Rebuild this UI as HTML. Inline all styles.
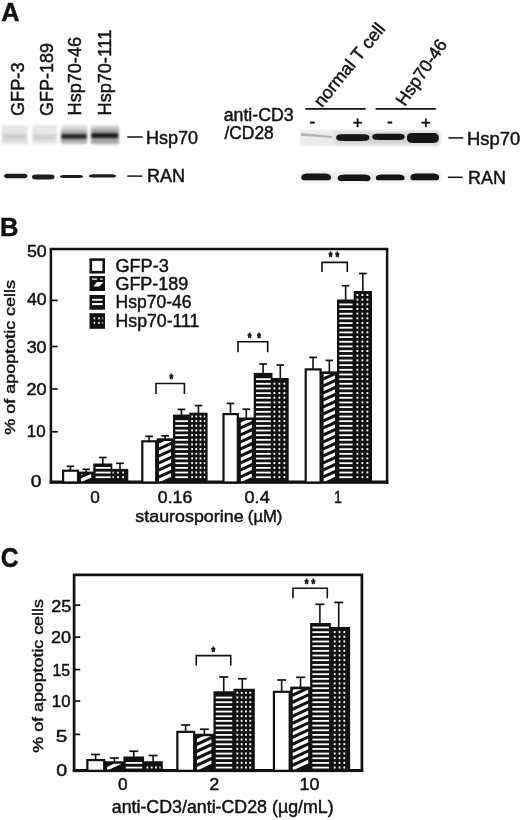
<!DOCTYPE html>
<html><head><meta charset="utf-8"><title>Figure</title>
<style>
html,body{margin:0;padding:0;background:#fff}
svg{display:block}
text{font-family:"Liberation Sans",sans-serif}
</style></head><body>
<svg width="520" height="820" viewBox="0 0 520 820">
<defs>
<filter id="b05" x="-10%" y="-50%" width="120%" height="200%"><feGaussianBlur stdDeviation="0.6"/></filter>
<filter id="b15" x="-10%" y="-50%" width="120%" height="200%"><feGaussianBlur stdDeviation="1.6"/></filter>
<filter id="b1" x="-10%" y="-50%" width="120%" height="200%"><feGaussianBlur stdDeviation="1"/></filter>
<filter id="b2" x="-10%" y="-50%" width="120%" height="200%"><feGaussianBlur stdDeviation="2.2"/></filter>
<pattern id="hstr" width="40" height="4.67" patternUnits="userSpaceOnUse"><rect width="40" height="4.67" fill="#111"/><rect y="1.4" width="40" height="1.9" fill="#fff"/></pattern>
<pattern id="dots" width="4.4" height="4.67" patternUnits="userSpaceOnUse"><rect width="4.4" height="4.67" fill="#111"/><rect x="1.45" y="1.3" width="1.5" height="2" fill="#fff"/></pattern>
<pattern id="hatch" width="40" height="7" patternUnits="userSpaceOnUse"><rect width="40" height="7" fill="#111"/><path d="M0,7 L14,0 L14,-3.5 L0,3.5 Z M0,14 L14,7 L14,3.5 L0,10.5Z M0,0 L14,-7 L14,-10.5 L0,-3.5Z" fill="#fff"/></pattern>
</defs>
<rect width="520" height="820" fill="#fff"/>
<text transform="translate(2.00,21.00) scale(0.9691,1) translate(-0.65,0)" font-size="26.18" font-weight="bold" fill="#111" stroke="#111" stroke-width="0.45">A</text>
<text transform="translate(23.60,115.10) rotate(-90.00) scale(0.9839,1) translate(-0.92,0)" font-size="18.47" fill="#111" stroke="#111" stroke-width="0.45">GFP-3</text>
<text transform="translate(52.90,115.10) rotate(-90.00) scale(0.9747,1) translate(-0.92,0)" font-size="18.47" fill="#111" stroke="#111" stroke-width="0.45">GFP-189</text>
<text transform="translate(80.70,113.90) rotate(-90.00) scale(0.9798,1) translate(-1.52,0)" font-size="18.47" fill="#111" stroke="#111" stroke-width="0.45">Hsp70-46</text>
<text transform="translate(110.60,113.90) rotate(-90.00) scale(0.9800,1) translate(-1.52,0)" font-size="18.47" fill="#111" stroke="#111" stroke-width="0.45">Hsp70-111</text>
<g filter="url(#b1)">
<rect x="2.00" y="125.20" width="25.50" height="19.00" fill="#e6e6e6"/>
<rect x="32.50" y="125.20" width="24.50" height="19.00" fill="#e8e8e8"/>
<rect x="61.00" y="125.20" width="26.00" height="19.00" fill="#dcdcdc"/>
<rect x="91.00" y="125.20" width="28.00" height="19.00" fill="#d8d8d8"/>
</g>
<g filter="url(#b15)">
<rect x="61.50" y="130.00" width="25.50" height="13.00" fill="#aaaaaa"/>
<rect x="91.50" y="128.50" width="27.00" height="15.00" fill="#a2a2a2"/>
<rect x="3.00" y="133.00" width="23.00" height="8.00" fill="#d6d6d6"/>
<rect x="33.00" y="134.00" width="23.00" height="7.00" fill="#d9d9d9"/>
</g>
<g filter="url(#b1)">
<rect x="61.50" y="134.20" width="25.00" height="4.40" fill="#202020"/>
<rect x="91.50" y="133.20" width="26.50" height="4.80" fill="#1c1c1c"/>
<rect x="4.00" y="135.60" width="22.00" height="1.60" fill="#c4c4c4"/>
<rect x="35.00" y="136.40" width="20.00" height="1.60" fill="#c4c4c4"/>
</g>
<g filter="url(#b05)">
<path d="M4.00,176.00 C4.00,173.70 7.53,173.70 11.05,173.70 L20.45,173.70 C23.98,173.70 27.50,173.70 27.50,176.00 C27.50,178.30 23.98,178.30 20.45,178.30 L11.05,178.30 C7.53,178.30 4.00,178.30 4.00,176.00Z" fill="#1a1a1a"/>
<path d="M32.00,177.00 C32.00,174.50 35.38,174.50 38.75,174.50 L47.75,174.50 C51.12,174.50 54.50,174.50 54.50,177.00 C54.50,179.50 51.12,179.50 47.75,179.50 L38.75,179.50 C35.38,179.50 32.00,179.50 32.00,177.00Z" fill="#1a1a1a"/>
<path d="M60.00,176.40 C60.00,174.90 63.45,174.90 66.90,174.90 L76.10,174.90 C79.55,174.90 83.00,174.90 83.00,176.40 C83.00,177.90 79.55,177.90 76.10,177.90 L66.90,177.90 C63.45,177.90 60.00,177.90 60.00,176.40Z" fill="#1a1a1a"/>
<path d="M89.00,175.90 C89.00,174.20 93.05,174.20 97.10,174.20 L107.90,174.20 C111.95,174.20 116.00,174.20 116.00,175.90 C116.00,177.60 111.95,177.60 107.90,177.60 L97.10,177.60 C93.05,177.60 89.00,177.60 89.00,175.90Z" fill="#1a1a1a"/>
</g>
<line x1="127.30" y1="137.00" x2="142.70" y2="137.00" stroke="#111" stroke-width="1.5"/>
<text transform="translate(147.50,143.80) scale(1.0089,1) translate(-1.48,0)" font-size="17.89" fill="#111" stroke="#111" stroke-width="0.45">Hsp70</text>
<line x1="127.30" y1="176.10" x2="142.30" y2="176.10" stroke="#111" stroke-width="1.5"/>
<text transform="translate(148.50,181.70) scale(1.0355,1) translate(-1.44,0)" font-size="17.45" fill="#111" stroke="#111" stroke-width="0.45">RAN</text>
<text transform="translate(322.70,107.30) rotate(-51.00) scale(1.0098,1) translate(-1.20,0)" font-size="17.75" fill="#111" stroke="#111" stroke-width="0.45">normal T cell</text>
<text transform="translate(405.60,105.80) rotate(-55.50) scale(0.9878,1) translate(-1.46,0)" font-size="17.75" fill="#111" stroke="#111" stroke-width="0.45">Hsp70-46</text>
<line x1="305.50" y1="108.90" x2="365.60" y2="108.90" stroke="#111" stroke-width="1.6"/>
<line x1="375.60" y1="108.90" x2="435.80" y2="108.90" stroke="#111" stroke-width="1.6"/>
<text transform="translate(224.40,120.80) scale(1.0015,1) translate(-0.75,0)" font-size="17.75" fill="#111" stroke="#111" stroke-width="0.45">anti-CD3</text>
<text transform="translate(224.40,138.50) scale(0.9816,1) translate(-0.00,0)" font-size="17.75" fill="#111" stroke="#111" stroke-width="0.45">/CD28</text>
<text x="309.74" y="126.86" font-size="16.00" fill="#111" stroke="#111" stroke-width="0.7">-</text>
<text x="387.24" y="126.86" font-size="16.00" fill="#111" stroke="#111" stroke-width="0.7">-</text>
<text x="352.67" y="127.69" font-size="16.50" fill="#111" stroke="#111" stroke-width="0.6">+</text>
<text x="420.97" y="127.69" font-size="16.50" fill="#111" stroke="#111" stroke-width="0.6">+</text>
<g filter="url(#b1)">
<rect x="300.00" y="130.30" width="139.50" height="15.50" fill="#ebebeb"/>
</g>
<g filter="url(#b2)">
<rect x="336.00" y="132.50" width="103.00" height="11.50" fill="#cfcfcf"/>
<rect x="300.00" y="172.00" width="140.00" height="10.00" fill="#e9e9e9"/>
</g>
<g filter="url(#b05)">
<path d="M301,133.2 L312,134.0 L332,136.0 L332,138.0 L312,136.4 L301,136Z" fill="#b4b4b4"/>
<path d="M336.20,137.55 C336.20,134.20 339.85,134.20 343.50,134.20 L362.10,134.20 C365.75,134.20 369.40,134.20 369.40,137.55 C369.40,140.90 365.75,140.90 362.10,140.90 L343.50,140.90 C339.85,140.90 336.20,140.90 336.20,137.55Z" fill="#151515"/>
<path d="M372.30,136.85 C372.30,133.70 375.85,133.70 379.41,133.70 L397.49,133.70 C401.05,133.70 404.60,133.70 404.60,136.85 C404.60,140.00 401.05,140.00 397.49,140.00 L379.41,140.00 C375.85,140.00 372.30,140.00 372.30,136.85Z" fill="#151515"/>
<path d="M407.00,137.95 C407.00,133.00 410.50,133.00 414.00,133.00 L431.80,133.00 C435.30,133.00 438.80,133.00 438.80,137.95 C438.80,142.90 435.30,142.90 431.80,142.90 L414.00,142.90 C410.50,142.90 407.00,142.90 407.00,137.95Z" fill="#151515"/>
<path d="M301.30,177.75 C301.30,174.12 304.57,173.70 307.83,173.49 L324.47,173.49 C327.73,173.70 331.00,174.12 331.00,177.75 C331.00,180.82 327.73,180.40 324.47,180.19 L307.83,180.19 C304.57,180.40 301.30,180.82 301.30,177.75Z" fill="#151515"/>
<path d="M337.70,178.60 C337.70,175.02 341.32,174.60 344.94,174.39 L363.36,174.39 C366.98,174.60 370.60,175.02 370.60,178.60 C370.60,181.62 366.98,181.20 363.36,180.99 L344.94,180.99 C341.32,181.20 337.70,181.62 337.70,178.60Z" fill="#151515"/>
<path d="M375.80,178.30 C375.80,175.22 378.97,174.80 382.14,174.59 L398.26,174.59 C401.43,174.80 404.60,175.22 404.60,178.30 C404.60,180.82 401.43,180.40 398.26,180.19 L382.14,180.19 C378.97,180.40 375.80,180.82 375.80,178.30Z" fill="#151515"/>
<path d="M410.40,177.75 C410.40,174.12 413.57,173.70 416.74,173.49 L432.86,173.49 C436.03,173.70 439.20,174.12 439.20,177.75 C439.20,180.82 436.03,180.40 432.86,180.19 L416.74,180.19 C413.57,180.40 410.40,180.82 410.40,177.75Z" fill="#151515"/>
</g>
<line x1="448.50" y1="137.90" x2="463.30" y2="137.90" stroke="#111" stroke-width="1.5"/>
<text transform="translate(468.50,145.00) scale(1.0126,1) translate(-1.50,0)" font-size="18.18" fill="#111" stroke="#111" stroke-width="0.45">Hsp70</text>
<line x1="447.90" y1="177.30" x2="462.70" y2="177.30" stroke="#111" stroke-width="1.5"/>
<text transform="translate(469.60,183.50) scale(1.0296,1) translate(-1.44,0)" font-size="17.45" fill="#111" stroke="#111" stroke-width="0.45">RAN</text>
<text transform="translate(1.70,236.00) scale(0.9768,1) translate(-1.77,0)" font-size="26.18" font-weight="bold" fill="#111" stroke="#111" stroke-width="0.45">B</text>
<path d="M50.9,483.9 V249 H387.1 V483.9" fill="none" stroke="#111" stroke-width="2.5"/>
<rect x="49.80" y="480.50" width="338.50" height="3.30" fill="#111"/>
<text transform="translate(27.60,256.90) scale(1.1240,1) translate(-0.63,0)" font-size="15.85" fill="#111" stroke="#111" stroke-width="0.45">50</text>
<text transform="translate(27.30,305.40) scale(1.1113,1) translate(-0.36,0)" font-size="15.85" fill="#111" stroke="#111" stroke-width="0.45">40</text>
<text transform="translate(27.30,352.70) scale(1.1274,1) translate(-0.59,0)" font-size="15.85" fill="#111" stroke="#111" stroke-width="0.45">30</text>
<text transform="translate(27.30,394.70) scale(1.1412,1) translate(-0.79,0)" font-size="15.85" fill="#111" stroke="#111" stroke-width="0.45">20</text>
<text transform="translate(28.10,437.20) scale(1.0686,1) translate(-1.19,0)" font-size="15.85" fill="#111" stroke="#111" stroke-width="0.45">10</text>
<text transform="translate(31.60,487.30) scale(1.2152,1) translate(-0.63,0)" font-size="15.85" fill="#111" stroke="#111" stroke-width="0.45">0</text>
<line x1="52.00" y1="300.40" x2="57.70" y2="300.40" stroke="#111" stroke-width="1.7"/>
<line x1="52.00" y1="346.50" x2="57.70" y2="346.50" stroke="#111" stroke-width="1.7"/>
<line x1="52.00" y1="389.00" x2="57.70" y2="389.00" stroke="#111" stroke-width="1.7"/>
<line x1="52.00" y1="431.80" x2="57.70" y2="431.80" stroke="#111" stroke-width="1.7"/>
<text transform="translate(14.60,434.20) rotate(-90.00) scale(1.2627,1) translate(-0.50,0)" font-size="14.25" fill="#111" stroke="#111" stroke-width="0.45">% of apoptotic cells</text>
<rect x="90.80" y="259.60" width="12.90" height="12.60" fill="#fff" stroke="#111" stroke-width="2.6"/>
<rect x="89.50" y="276.00" width="15.50" height="15.00" fill="#111"/>
<rect x="89.50" y="295.00" width="15.50" height="14.70" fill="#111"/>
<rect x="89.50" y="313.20" width="15.50" height="15.60" fill="#111"/>
<path d="M93.5,286.4 L99.2,286.4 L103.5,282 L96.9,282 Z M92,278.6 h4.9 v1.2 h-4.9z M100.2,278.6 h2.4 v1.2 h-2.4z" fill="#fff"/>
<rect x="92.00" y="298.80" width="10.60" height="1.90" fill="#fff"/>
<rect x="92.00" y="303.00" width="10.60" height="2.10" fill="#fff"/>
<rect x="93.70" y="317.30" width="1.50" height="2.00" fill="#fff"/>
<rect x="93.70" y="321.80" width="1.50" height="2.00" fill="#fff"/>
<rect x="98.20" y="317.30" width="1.50" height="2.00" fill="#fff"/>
<rect x="98.20" y="321.80" width="1.50" height="2.00" fill="#fff"/>
<rect x="101.80" y="317.30" width="1.50" height="2.00" fill="#888"/>
<rect x="101.80" y="321.80" width="1.50" height="2.00" fill="#888"/>
<text transform="translate(116.30,271.60) scale(1.0393,1) translate(-0.87,0)" font-size="17.45" fill="#111" stroke="#111" stroke-width="0.45">GFP-3</text>
<text transform="translate(116.30,289.80) scale(1.0301,1) translate(-0.87,0)" font-size="17.45" fill="#111" stroke="#111" stroke-width="0.45">GFP-189</text>
<text transform="translate(117.00,308.00) scale(1.0043,1) translate(-1.44,0)" font-size="17.45" fill="#111" stroke="#111" stroke-width="0.45">Hsp70-46</text>
<text transform="translate(117.00,326.90) scale(1.0148,1) translate(-1.44,0)" font-size="17.45" fill="#111" stroke="#111" stroke-width="0.45">Hsp70-111</text>
<line x1="70.40" y1="466.30" x2="70.40" y2="470.60" stroke="#111" stroke-width="1.6"/>
<line x1="66.60" y1="466.30" x2="74.20" y2="466.30" stroke="#111" stroke-width="1.7"/>
<rect x="63.10" y="470.70" width="14.90" height="11.80" fill="#fff" stroke="#111" stroke-width="2.2"/>
<line x1="86.20" y1="469.30" x2="86.20" y2="472.60" stroke="#111" stroke-width="1.6"/>
<line x1="82.40" y1="469.30" x2="90.00" y2="469.30" stroke="#111" stroke-width="1.7"/>
<rect x="78.50" y="471.60" width="15.40" height="10.90" fill="#111"/>
<clipPath id="c1"><rect x="80.80" y="474.20" width="10.70" height="7.10"/></clipPath>
<g clip-path="url(#c1)" fill="#fff">
<path d="M80.80,482.30 L91.50,477.38 V473.68 L80.80,478.60Z"/>
<path d="M80.80,475.30 L91.50,470.38 V466.68 L80.80,471.60Z"/>
<path d="M80.80,468.30 L91.50,463.38 V459.68 L80.80,464.60Z"/>
</g>
<line x1="102.80" y1="457.50" x2="102.80" y2="464.50" stroke="#111" stroke-width="1.6"/>
<line x1="99.00" y1="457.50" x2="106.60" y2="457.50" stroke="#111" stroke-width="1.7"/>
<rect x="93.30" y="463.50" width="19.00" height="19.00" fill="#111"/>
<clipPath id="c2"><rect x="95.60" y="466.10" width="15.00" height="15.20"/></clipPath>
<g clip-path="url(#c2)" fill="#fff">
<rect x="94.40" y="476.30" width="16.60" height="1.8"/>
<rect x="94.40" y="471.63" width="16.60" height="1.8"/>
<rect x="94.40" y="466.96" width="16.60" height="1.8"/>
</g>
<line x1="120.00" y1="463.30" x2="120.00" y2="469.90" stroke="#111" stroke-width="1.6"/>
<line x1="116.20" y1="463.30" x2="123.80" y2="463.30" stroke="#111" stroke-width="1.7"/>
<rect x="111.70" y="468.90" width="16.60" height="13.60" fill="#111"/>
<clipPath id="c3"><rect x="112.50" y="471.50" width="13.50" height="9.80"/></clipPath>
<g clip-path="url(#c3)" fill="#fff">
<rect x="112.00" y="476.10" width="1.8" height="2.0"/>
<rect x="117.10" y="476.10" width="1.8" height="2.0"/>
<rect x="122.20" y="476.10" width="1.8" height="2.0"/>
<rect x="112.00" y="471.43" width="1.8" height="2.0"/>
<rect x="117.10" y="471.43" width="1.8" height="2.0"/>
<rect x="122.20" y="471.43" width="1.8" height="2.0"/>
</g>
<line x1="149.10" y1="436.30" x2="149.10" y2="441.20" stroke="#111" stroke-width="1.6"/>
<line x1="145.30" y1="436.30" x2="152.90" y2="436.30" stroke="#111" stroke-width="1.7"/>
<rect x="142.30" y="441.30" width="13.90" height="41.20" fill="#fff" stroke="#111" stroke-width="2.2"/>
<line x1="165.15" y1="435.80" x2="165.15" y2="439.30" stroke="#111" stroke-width="1.6"/>
<line x1="161.35" y1="435.80" x2="168.95" y2="435.80" stroke="#111" stroke-width="1.7"/>
<rect x="156.70" y="438.30" width="16.90" height="44.20" fill="#111"/>
<clipPath id="c4"><rect x="159.00" y="440.90" width="12.20" height="40.40"/></clipPath>
<g clip-path="url(#c4)" fill="#fff">
<path d="M159.00,482.30 L171.20,476.69 V472.99 L159.00,478.60Z"/>
<path d="M159.00,475.30 L171.20,469.69 V465.99 L159.00,471.60Z"/>
<path d="M159.00,468.30 L171.20,462.69 V458.99 L159.00,464.60Z"/>
<path d="M159.00,461.30 L171.20,455.69 V451.99 L159.00,457.60Z"/>
<path d="M159.00,454.30 L171.20,448.69 V444.99 L159.00,450.60Z"/>
<path d="M159.00,447.30 L171.20,441.69 V437.99 L159.00,443.60Z"/>
<path d="M159.00,440.30 L171.20,434.69 V430.99 L159.00,436.60Z"/>
<path d="M159.00,433.30 L171.20,427.69 V423.99 L159.00,429.60Z"/>
</g>
<line x1="181.45" y1="409.40" x2="181.45" y2="415.60" stroke="#111" stroke-width="1.6"/>
<line x1="177.65" y1="409.40" x2="185.25" y2="409.40" stroke="#111" stroke-width="1.7"/>
<rect x="173.00" y="414.60" width="16.90" height="67.90" fill="#111"/>
<clipPath id="c5"><rect x="175.30" y="417.20" width="12.90" height="64.10"/></clipPath>
<g clip-path="url(#c5)" fill="#fff">
<rect x="174.10" y="476.30" width="14.50" height="1.8"/>
<rect x="174.10" y="471.63" width="14.50" height="1.8"/>
<rect x="174.10" y="466.96" width="14.50" height="1.8"/>
<rect x="174.10" y="462.29" width="14.50" height="1.8"/>
<rect x="174.10" y="457.62" width="14.50" height="1.8"/>
<rect x="174.10" y="452.95" width="14.50" height="1.8"/>
<rect x="174.10" y="448.28" width="14.50" height="1.8"/>
<rect x="174.10" y="443.61" width="14.50" height="1.8"/>
<rect x="174.10" y="438.94" width="14.50" height="1.8"/>
<rect x="174.10" y="434.27" width="14.50" height="1.8"/>
<rect x="174.10" y="429.60" width="14.50" height="1.8"/>
<rect x="174.10" y="424.93" width="14.50" height="1.8"/>
<rect x="174.10" y="420.26" width="14.50" height="1.8"/>
</g>
<line x1="198.45" y1="405.60" x2="198.45" y2="413.70" stroke="#111" stroke-width="1.6"/>
<line x1="194.65" y1="405.60" x2="202.25" y2="405.60" stroke="#111" stroke-width="1.7"/>
<rect x="189.30" y="412.70" width="18.30" height="69.80" fill="#111"/>
<clipPath id="c6"><rect x="190.10" y="415.30" width="15.20" height="66.00"/></clipPath>
<g clip-path="url(#c6)" fill="#fff">
<rect x="191.20" y="476.10" width="1.8" height="2.0"/>
<rect x="195.40" y="476.10" width="1.8" height="2.0"/>
<rect x="199.60" y="476.10" width="1.8" height="2.0"/>
<rect x="203.80" y="476.10" width="1.8" height="2.0"/>
<rect x="191.20" y="471.43" width="1.8" height="2.0"/>
<rect x="195.40" y="471.43" width="1.8" height="2.0"/>
<rect x="199.60" y="471.43" width="1.8" height="2.0"/>
<rect x="203.80" y="471.43" width="1.8" height="2.0"/>
<rect x="191.20" y="466.76" width="1.8" height="2.0"/>
<rect x="195.40" y="466.76" width="1.8" height="2.0"/>
<rect x="199.60" y="466.76" width="1.8" height="2.0"/>
<rect x="203.80" y="466.76" width="1.8" height="2.0"/>
<rect x="191.20" y="462.09" width="1.8" height="2.0"/>
<rect x="195.40" y="462.09" width="1.8" height="2.0"/>
<rect x="199.60" y="462.09" width="1.8" height="2.0"/>
<rect x="203.80" y="462.09" width="1.8" height="2.0"/>
<rect x="191.20" y="457.42" width="1.8" height="2.0"/>
<rect x="195.40" y="457.42" width="1.8" height="2.0"/>
<rect x="199.60" y="457.42" width="1.8" height="2.0"/>
<rect x="203.80" y="457.42" width="1.8" height="2.0"/>
<rect x="191.20" y="452.75" width="1.8" height="2.0"/>
<rect x="195.40" y="452.75" width="1.8" height="2.0"/>
<rect x="199.60" y="452.75" width="1.8" height="2.0"/>
<rect x="203.80" y="452.75" width="1.8" height="2.0"/>
<rect x="191.20" y="448.08" width="1.8" height="2.0"/>
<rect x="195.40" y="448.08" width="1.8" height="2.0"/>
<rect x="199.60" y="448.08" width="1.8" height="2.0"/>
<rect x="203.80" y="448.08" width="1.8" height="2.0"/>
<rect x="191.20" y="443.41" width="1.8" height="2.0"/>
<rect x="195.40" y="443.41" width="1.8" height="2.0"/>
<rect x="199.60" y="443.41" width="1.8" height="2.0"/>
<rect x="203.80" y="443.41" width="1.8" height="2.0"/>
<rect x="191.20" y="438.74" width="1.8" height="2.0"/>
<rect x="195.40" y="438.74" width="1.8" height="2.0"/>
<rect x="199.60" y="438.74" width="1.8" height="2.0"/>
<rect x="203.80" y="438.74" width="1.8" height="2.0"/>
<rect x="191.20" y="434.07" width="1.8" height="2.0"/>
<rect x="195.40" y="434.07" width="1.8" height="2.0"/>
<rect x="199.60" y="434.07" width="1.8" height="2.0"/>
<rect x="203.80" y="434.07" width="1.8" height="2.0"/>
<rect x="191.20" y="429.40" width="1.8" height="2.0"/>
<rect x="195.40" y="429.40" width="1.8" height="2.0"/>
<rect x="199.60" y="429.40" width="1.8" height="2.0"/>
<rect x="203.80" y="429.40" width="1.8" height="2.0"/>
<rect x="191.20" y="424.73" width="1.8" height="2.0"/>
<rect x="195.40" y="424.73" width="1.8" height="2.0"/>
<rect x="199.60" y="424.73" width="1.8" height="2.0"/>
<rect x="203.80" y="424.73" width="1.8" height="2.0"/>
<rect x="191.20" y="420.06" width="1.8" height="2.0"/>
<rect x="195.40" y="420.06" width="1.8" height="2.0"/>
<rect x="199.60" y="420.06" width="1.8" height="2.0"/>
<rect x="203.80" y="420.06" width="1.8" height="2.0"/>
<rect x="191.20" y="415.39" width="1.8" height="2.0"/>
<rect x="195.40" y="415.39" width="1.8" height="2.0"/>
<rect x="199.60" y="415.39" width="1.8" height="2.0"/>
<rect x="203.80" y="415.39" width="1.8" height="2.0"/>
</g>
<line x1="230.50" y1="403.40" x2="230.50" y2="414.00" stroke="#111" stroke-width="1.6"/>
<line x1="226.70" y1="403.40" x2="234.30" y2="403.40" stroke="#111" stroke-width="1.7"/>
<rect x="223.50" y="414.10" width="14.30" height="68.40" fill="#fff" stroke="#111" stroke-width="2.2"/>
<line x1="246.30" y1="409.20" x2="246.30" y2="418.50" stroke="#111" stroke-width="1.6"/>
<line x1="242.50" y1="409.20" x2="250.10" y2="409.20" stroke="#111" stroke-width="1.7"/>
<rect x="238.30" y="417.50" width="16.00" height="65.00" fill="#111"/>
<clipPath id="c7"><rect x="240.60" y="420.10" width="11.30" height="61.20"/></clipPath>
<g clip-path="url(#c7)" fill="#fff">
<path d="M240.60,482.30 L251.90,477.10 V473.40 L240.60,478.60Z"/>
<path d="M240.60,475.30 L251.90,470.10 V466.40 L240.60,471.60Z"/>
<path d="M240.60,468.30 L251.90,463.10 V459.40 L240.60,464.60Z"/>
<path d="M240.60,461.30 L251.90,456.10 V452.40 L240.60,457.60Z"/>
<path d="M240.60,454.30 L251.90,449.10 V445.40 L240.60,450.60Z"/>
<path d="M240.60,447.30 L251.90,442.10 V438.40 L240.60,443.60Z"/>
<path d="M240.60,440.30 L251.90,435.10 V431.40 L240.60,436.60Z"/>
<path d="M240.60,433.30 L251.90,428.10 V424.40 L240.60,429.60Z"/>
<path d="M240.60,426.30 L251.90,421.10 V417.40 L240.60,422.60Z"/>
<path d="M240.60,419.30 L251.90,414.10 V410.40 L240.60,415.60Z"/>
<path d="M240.60,412.30 L251.90,407.10 V403.40 L240.60,408.60Z"/>
</g>
<line x1="263.10" y1="364.00" x2="263.10" y2="373.90" stroke="#111" stroke-width="1.6"/>
<line x1="259.30" y1="364.00" x2="266.90" y2="364.00" stroke="#111" stroke-width="1.7"/>
<rect x="253.70" y="372.90" width="18.80" height="109.60" fill="#111"/>
<clipPath id="c8"><rect x="256.00" y="375.50" width="14.80" height="105.80"/></clipPath>
<g clip-path="url(#c8)" fill="#fff">
<rect x="254.80" y="476.30" width="16.40" height="1.8"/>
<rect x="254.80" y="471.63" width="16.40" height="1.8"/>
<rect x="254.80" y="466.96" width="16.40" height="1.8"/>
<rect x="254.80" y="462.29" width="16.40" height="1.8"/>
<rect x="254.80" y="457.62" width="16.40" height="1.8"/>
<rect x="254.80" y="452.95" width="16.40" height="1.8"/>
<rect x="254.80" y="448.28" width="16.40" height="1.8"/>
<rect x="254.80" y="443.61" width="16.40" height="1.8"/>
<rect x="254.80" y="438.94" width="16.40" height="1.8"/>
<rect x="254.80" y="434.27" width="16.40" height="1.8"/>
<rect x="254.80" y="429.60" width="16.40" height="1.8"/>
<rect x="254.80" y="424.93" width="16.40" height="1.8"/>
<rect x="254.80" y="420.26" width="16.40" height="1.8"/>
<rect x="254.80" y="415.59" width="16.40" height="1.8"/>
<rect x="254.80" y="410.92" width="16.40" height="1.8"/>
<rect x="254.80" y="406.25" width="16.40" height="1.8"/>
<rect x="254.80" y="401.58" width="16.40" height="1.8"/>
<rect x="254.80" y="396.91" width="16.40" height="1.8"/>
<rect x="254.80" y="392.24" width="16.40" height="1.8"/>
<rect x="254.80" y="387.57" width="16.40" height="1.8"/>
<rect x="254.80" y="382.90" width="16.40" height="1.8"/>
<rect x="254.80" y="378.23" width="16.40" height="1.8"/>
</g>
<line x1="280.30" y1="365.00" x2="280.30" y2="379.00" stroke="#111" stroke-width="1.6"/>
<line x1="276.50" y1="365.00" x2="284.10" y2="365.00" stroke="#111" stroke-width="1.7"/>
<rect x="271.90" y="378.00" width="16.80" height="104.50" fill="#111"/>
<clipPath id="c9"><rect x="272.70" y="380.60" width="13.70" height="100.70"/></clipPath>
<g clip-path="url(#c9)" fill="#fff">
<rect x="273.50" y="476.10" width="1.8" height="2.0"/>
<rect x="278.50" y="476.10" width="1.8" height="2.0"/>
<rect x="283.50" y="476.10" width="1.8" height="2.0"/>
<rect x="273.50" y="471.43" width="1.8" height="2.0"/>
<rect x="278.50" y="471.43" width="1.8" height="2.0"/>
<rect x="283.50" y="471.43" width="1.8" height="2.0"/>
<rect x="273.50" y="466.76" width="1.8" height="2.0"/>
<rect x="278.50" y="466.76" width="1.8" height="2.0"/>
<rect x="283.50" y="466.76" width="1.8" height="2.0"/>
<rect x="273.50" y="462.09" width="1.8" height="2.0"/>
<rect x="278.50" y="462.09" width="1.8" height="2.0"/>
<rect x="283.50" y="462.09" width="1.8" height="2.0"/>
<rect x="273.50" y="457.42" width="1.8" height="2.0"/>
<rect x="278.50" y="457.42" width="1.8" height="2.0"/>
<rect x="283.50" y="457.42" width="1.8" height="2.0"/>
<rect x="273.50" y="452.75" width="1.8" height="2.0"/>
<rect x="278.50" y="452.75" width="1.8" height="2.0"/>
<rect x="283.50" y="452.75" width="1.8" height="2.0"/>
<rect x="273.50" y="448.08" width="1.8" height="2.0"/>
<rect x="278.50" y="448.08" width="1.8" height="2.0"/>
<rect x="283.50" y="448.08" width="1.8" height="2.0"/>
<rect x="273.50" y="443.41" width="1.8" height="2.0"/>
<rect x="278.50" y="443.41" width="1.8" height="2.0"/>
<rect x="283.50" y="443.41" width="1.8" height="2.0"/>
<rect x="273.50" y="438.74" width="1.8" height="2.0"/>
<rect x="278.50" y="438.74" width="1.8" height="2.0"/>
<rect x="283.50" y="438.74" width="1.8" height="2.0"/>
<rect x="273.50" y="434.07" width="1.8" height="2.0"/>
<rect x="278.50" y="434.07" width="1.8" height="2.0"/>
<rect x="283.50" y="434.07" width="1.8" height="2.0"/>
<rect x="273.50" y="429.40" width="1.8" height="2.0"/>
<rect x="278.50" y="429.40" width="1.8" height="2.0"/>
<rect x="283.50" y="429.40" width="1.8" height="2.0"/>
<rect x="273.50" y="424.73" width="1.8" height="2.0"/>
<rect x="278.50" y="424.73" width="1.8" height="2.0"/>
<rect x="283.50" y="424.73" width="1.8" height="2.0"/>
<rect x="273.50" y="420.06" width="1.8" height="2.0"/>
<rect x="278.50" y="420.06" width="1.8" height="2.0"/>
<rect x="283.50" y="420.06" width="1.8" height="2.0"/>
<rect x="273.50" y="415.39" width="1.8" height="2.0"/>
<rect x="278.50" y="415.39" width="1.8" height="2.0"/>
<rect x="283.50" y="415.39" width="1.8" height="2.0"/>
<rect x="273.50" y="410.72" width="1.8" height="2.0"/>
<rect x="278.50" y="410.72" width="1.8" height="2.0"/>
<rect x="283.50" y="410.72" width="1.8" height="2.0"/>
<rect x="273.50" y="406.05" width="1.8" height="2.0"/>
<rect x="278.50" y="406.05" width="1.8" height="2.0"/>
<rect x="283.50" y="406.05" width="1.8" height="2.0"/>
<rect x="273.50" y="401.38" width="1.8" height="2.0"/>
<rect x="278.50" y="401.38" width="1.8" height="2.0"/>
<rect x="283.50" y="401.38" width="1.8" height="2.0"/>
<rect x="273.50" y="396.71" width="1.8" height="2.0"/>
<rect x="278.50" y="396.71" width="1.8" height="2.0"/>
<rect x="283.50" y="396.71" width="1.8" height="2.0"/>
<rect x="273.50" y="392.04" width="1.8" height="2.0"/>
<rect x="278.50" y="392.04" width="1.8" height="2.0"/>
<rect x="283.50" y="392.04" width="1.8" height="2.0"/>
<rect x="273.50" y="387.37" width="1.8" height="2.0"/>
<rect x="278.50" y="387.37" width="1.8" height="2.0"/>
<rect x="283.50" y="387.37" width="1.8" height="2.0"/>
<rect x="273.50" y="382.70" width="1.8" height="2.0"/>
<rect x="278.50" y="382.70" width="1.8" height="2.0"/>
<rect x="283.50" y="382.70" width="1.8" height="2.0"/>
</g>
<line x1="313.00" y1="357.40" x2="313.00" y2="369.30" stroke="#111" stroke-width="1.6"/>
<line x1="309.20" y1="357.40" x2="316.80" y2="357.40" stroke="#111" stroke-width="1.7"/>
<rect x="305.70" y="369.40" width="14.90" height="113.10" fill="#fff" stroke="#111" stroke-width="2.2"/>
<line x1="329.35" y1="360.40" x2="329.35" y2="372.40" stroke="#111" stroke-width="1.6"/>
<line x1="325.55" y1="360.40" x2="333.15" y2="360.40" stroke="#111" stroke-width="1.7"/>
<rect x="321.10" y="371.40" width="16.50" height="111.10" fill="#111"/>
<clipPath id="c10"><rect x="323.40" y="374.00" width="11.80" height="107.30"/></clipPath>
<g clip-path="url(#c10)" fill="#fff">
<path d="M323.40,482.30 L335.20,476.87 V473.17 L323.40,478.60Z"/>
<path d="M323.40,475.30 L335.20,469.87 V466.17 L323.40,471.60Z"/>
<path d="M323.40,468.30 L335.20,462.87 V459.17 L323.40,464.60Z"/>
<path d="M323.40,461.30 L335.20,455.87 V452.17 L323.40,457.60Z"/>
<path d="M323.40,454.30 L335.20,448.87 V445.17 L323.40,450.60Z"/>
<path d="M323.40,447.30 L335.20,441.87 V438.17 L323.40,443.60Z"/>
<path d="M323.40,440.30 L335.20,434.87 V431.17 L323.40,436.60Z"/>
<path d="M323.40,433.30 L335.20,427.87 V424.17 L323.40,429.60Z"/>
<path d="M323.40,426.30 L335.20,420.87 V417.17 L323.40,422.60Z"/>
<path d="M323.40,419.30 L335.20,413.87 V410.17 L323.40,415.60Z"/>
<path d="M323.40,412.30 L335.20,406.87 V403.17 L323.40,408.60Z"/>
<path d="M323.40,405.30 L335.20,399.87 V396.17 L323.40,401.60Z"/>
<path d="M323.40,398.30 L335.20,392.87 V389.17 L323.40,394.60Z"/>
<path d="M323.40,391.30 L335.20,385.87 V382.17 L323.40,387.60Z"/>
<path d="M323.40,384.30 L335.20,378.87 V375.17 L323.40,380.60Z"/>
<path d="M323.40,377.30 L335.20,371.87 V368.17 L323.40,373.60Z"/>
<path d="M323.40,370.30 L335.20,364.87 V361.17 L323.40,366.60Z"/>
</g>
<line x1="345.65" y1="285.70" x2="345.65" y2="300.50" stroke="#111" stroke-width="1.6"/>
<line x1="341.85" y1="285.70" x2="349.45" y2="285.70" stroke="#111" stroke-width="1.7"/>
<rect x="337.00" y="299.50" width="17.30" height="183.00" fill="#111"/>
<clipPath id="c11"><rect x="339.30" y="302.10" width="13.30" height="179.20"/></clipPath>
<g clip-path="url(#c11)" fill="#fff">
<rect x="338.10" y="476.30" width="14.90" height="1.8"/>
<rect x="338.10" y="471.63" width="14.90" height="1.8"/>
<rect x="338.10" y="466.96" width="14.90" height="1.8"/>
<rect x="338.10" y="462.29" width="14.90" height="1.8"/>
<rect x="338.10" y="457.62" width="14.90" height="1.8"/>
<rect x="338.10" y="452.95" width="14.90" height="1.8"/>
<rect x="338.10" y="448.28" width="14.90" height="1.8"/>
<rect x="338.10" y="443.61" width="14.90" height="1.8"/>
<rect x="338.10" y="438.94" width="14.90" height="1.8"/>
<rect x="338.10" y="434.27" width="14.90" height="1.8"/>
<rect x="338.10" y="429.60" width="14.90" height="1.8"/>
<rect x="338.10" y="424.93" width="14.90" height="1.8"/>
<rect x="338.10" y="420.26" width="14.90" height="1.8"/>
<rect x="338.10" y="415.59" width="14.90" height="1.8"/>
<rect x="338.10" y="410.92" width="14.90" height="1.8"/>
<rect x="338.10" y="406.25" width="14.90" height="1.8"/>
<rect x="338.10" y="401.58" width="14.90" height="1.8"/>
<rect x="338.10" y="396.91" width="14.90" height="1.8"/>
<rect x="338.10" y="392.24" width="14.90" height="1.8"/>
<rect x="338.10" y="387.57" width="14.90" height="1.8"/>
<rect x="338.10" y="382.90" width="14.90" height="1.8"/>
<rect x="338.10" y="378.23" width="14.90" height="1.8"/>
<rect x="338.10" y="373.56" width="14.90" height="1.8"/>
<rect x="338.10" y="368.89" width="14.90" height="1.8"/>
<rect x="338.10" y="364.22" width="14.90" height="1.8"/>
<rect x="338.10" y="359.55" width="14.90" height="1.8"/>
<rect x="338.10" y="354.88" width="14.90" height="1.8"/>
<rect x="338.10" y="350.21" width="14.90" height="1.8"/>
<rect x="338.10" y="345.54" width="14.90" height="1.8"/>
<rect x="338.10" y="340.87" width="14.90" height="1.8"/>
<rect x="338.10" y="336.20" width="14.90" height="1.8"/>
<rect x="338.10" y="331.53" width="14.90" height="1.8"/>
<rect x="338.10" y="326.86" width="14.90" height="1.8"/>
<rect x="338.10" y="322.19" width="14.90" height="1.8"/>
<rect x="338.10" y="317.52" width="14.90" height="1.8"/>
<rect x="338.10" y="312.85" width="14.90" height="1.8"/>
<rect x="338.10" y="308.18" width="14.90" height="1.8"/>
<rect x="338.10" y="303.51" width="14.90" height="1.8"/>
</g>
<line x1="362.85" y1="273.50" x2="362.85" y2="292.00" stroke="#111" stroke-width="1.6"/>
<line x1="359.05" y1="273.50" x2="366.65" y2="273.50" stroke="#111" stroke-width="1.7"/>
<rect x="353.70" y="291.00" width="18.30" height="191.50" fill="#111"/>
<clipPath id="c12"><rect x="354.50" y="293.60" width="15.20" height="187.70"/></clipPath>
<g clip-path="url(#c12)" fill="#fff">
<rect x="356.50" y="476.10" width="1.8" height="2.0"/>
<rect x="361.50" y="476.10" width="1.8" height="2.0"/>
<rect x="366.50" y="476.10" width="1.8" height="2.0"/>
<rect x="356.50" y="471.43" width="1.8" height="2.0"/>
<rect x="361.50" y="471.43" width="1.8" height="2.0"/>
<rect x="366.50" y="471.43" width="1.8" height="2.0"/>
<rect x="356.50" y="466.76" width="1.8" height="2.0"/>
<rect x="361.50" y="466.76" width="1.8" height="2.0"/>
<rect x="366.50" y="466.76" width="1.8" height="2.0"/>
<rect x="356.50" y="462.09" width="1.8" height="2.0"/>
<rect x="361.50" y="462.09" width="1.8" height="2.0"/>
<rect x="366.50" y="462.09" width="1.8" height="2.0"/>
<rect x="356.50" y="457.42" width="1.8" height="2.0"/>
<rect x="361.50" y="457.42" width="1.8" height="2.0"/>
<rect x="366.50" y="457.42" width="1.8" height="2.0"/>
<rect x="356.50" y="452.75" width="1.8" height="2.0"/>
<rect x="361.50" y="452.75" width="1.8" height="2.0"/>
<rect x="366.50" y="452.75" width="1.8" height="2.0"/>
<rect x="356.50" y="448.08" width="1.8" height="2.0"/>
<rect x="361.50" y="448.08" width="1.8" height="2.0"/>
<rect x="366.50" y="448.08" width="1.8" height="2.0"/>
<rect x="356.50" y="443.41" width="1.8" height="2.0"/>
<rect x="361.50" y="443.41" width="1.8" height="2.0"/>
<rect x="366.50" y="443.41" width="1.8" height="2.0"/>
<rect x="356.50" y="438.74" width="1.8" height="2.0"/>
<rect x="361.50" y="438.74" width="1.8" height="2.0"/>
<rect x="366.50" y="438.74" width="1.8" height="2.0"/>
<rect x="356.50" y="434.07" width="1.8" height="2.0"/>
<rect x="361.50" y="434.07" width="1.8" height="2.0"/>
<rect x="366.50" y="434.07" width="1.8" height="2.0"/>
<rect x="356.50" y="429.40" width="1.8" height="2.0"/>
<rect x="361.50" y="429.40" width="1.8" height="2.0"/>
<rect x="366.50" y="429.40" width="1.8" height="2.0"/>
<rect x="356.50" y="424.73" width="1.8" height="2.0"/>
<rect x="361.50" y="424.73" width="1.8" height="2.0"/>
<rect x="366.50" y="424.73" width="1.8" height="2.0"/>
<rect x="356.50" y="420.06" width="1.8" height="2.0"/>
<rect x="361.50" y="420.06" width="1.8" height="2.0"/>
<rect x="366.50" y="420.06" width="1.8" height="2.0"/>
<rect x="356.50" y="415.39" width="1.8" height="2.0"/>
<rect x="361.50" y="415.39" width="1.8" height="2.0"/>
<rect x="366.50" y="415.39" width="1.8" height="2.0"/>
<rect x="356.50" y="410.72" width="1.8" height="2.0"/>
<rect x="361.50" y="410.72" width="1.8" height="2.0"/>
<rect x="366.50" y="410.72" width="1.8" height="2.0"/>
<rect x="356.50" y="406.05" width="1.8" height="2.0"/>
<rect x="361.50" y="406.05" width="1.8" height="2.0"/>
<rect x="366.50" y="406.05" width="1.8" height="2.0"/>
<rect x="356.50" y="401.38" width="1.8" height="2.0"/>
<rect x="361.50" y="401.38" width="1.8" height="2.0"/>
<rect x="366.50" y="401.38" width="1.8" height="2.0"/>
<rect x="356.50" y="396.71" width="1.8" height="2.0"/>
<rect x="361.50" y="396.71" width="1.8" height="2.0"/>
<rect x="366.50" y="396.71" width="1.8" height="2.0"/>
<rect x="356.50" y="392.04" width="1.8" height="2.0"/>
<rect x="361.50" y="392.04" width="1.8" height="2.0"/>
<rect x="366.50" y="392.04" width="1.8" height="2.0"/>
<rect x="356.50" y="387.37" width="1.8" height="2.0"/>
<rect x="361.50" y="387.37" width="1.8" height="2.0"/>
<rect x="366.50" y="387.37" width="1.8" height="2.0"/>
<rect x="356.50" y="382.70" width="1.8" height="2.0"/>
<rect x="361.50" y="382.70" width="1.8" height="2.0"/>
<rect x="366.50" y="382.70" width="1.8" height="2.0"/>
<rect x="356.50" y="378.03" width="1.8" height="2.0"/>
<rect x="361.50" y="378.03" width="1.8" height="2.0"/>
<rect x="366.50" y="378.03" width="1.8" height="2.0"/>
<rect x="356.50" y="373.36" width="1.8" height="2.0"/>
<rect x="361.50" y="373.36" width="1.8" height="2.0"/>
<rect x="366.50" y="373.36" width="1.8" height="2.0"/>
<rect x="356.50" y="368.69" width="1.8" height="2.0"/>
<rect x="361.50" y="368.69" width="1.8" height="2.0"/>
<rect x="366.50" y="368.69" width="1.8" height="2.0"/>
<rect x="356.50" y="364.02" width="1.8" height="2.0"/>
<rect x="361.50" y="364.02" width="1.8" height="2.0"/>
<rect x="366.50" y="364.02" width="1.8" height="2.0"/>
<rect x="356.50" y="359.35" width="1.8" height="2.0"/>
<rect x="361.50" y="359.35" width="1.8" height="2.0"/>
<rect x="366.50" y="359.35" width="1.8" height="2.0"/>
<rect x="356.50" y="354.68" width="1.8" height="2.0"/>
<rect x="361.50" y="354.68" width="1.8" height="2.0"/>
<rect x="366.50" y="354.68" width="1.8" height="2.0"/>
<rect x="356.50" y="350.01" width="1.8" height="2.0"/>
<rect x="361.50" y="350.01" width="1.8" height="2.0"/>
<rect x="366.50" y="350.01" width="1.8" height="2.0"/>
<rect x="356.50" y="345.34" width="1.8" height="2.0"/>
<rect x="361.50" y="345.34" width="1.8" height="2.0"/>
<rect x="366.50" y="345.34" width="1.8" height="2.0"/>
<rect x="356.50" y="340.67" width="1.8" height="2.0"/>
<rect x="361.50" y="340.67" width="1.8" height="2.0"/>
<rect x="366.50" y="340.67" width="1.8" height="2.0"/>
<rect x="356.50" y="336.00" width="1.8" height="2.0"/>
<rect x="361.50" y="336.00" width="1.8" height="2.0"/>
<rect x="366.50" y="336.00" width="1.8" height="2.0"/>
<rect x="356.50" y="331.33" width="1.8" height="2.0"/>
<rect x="361.50" y="331.33" width="1.8" height="2.0"/>
<rect x="366.50" y="331.33" width="1.8" height="2.0"/>
<rect x="356.50" y="326.66" width="1.8" height="2.0"/>
<rect x="361.50" y="326.66" width="1.8" height="2.0"/>
<rect x="366.50" y="326.66" width="1.8" height="2.0"/>
<rect x="356.50" y="321.99" width="1.8" height="2.0"/>
<rect x="361.50" y="321.99" width="1.8" height="2.0"/>
<rect x="366.50" y="321.99" width="1.8" height="2.0"/>
<rect x="356.50" y="317.32" width="1.8" height="2.0"/>
<rect x="361.50" y="317.32" width="1.8" height="2.0"/>
<rect x="366.50" y="317.32" width="1.8" height="2.0"/>
<rect x="356.50" y="312.65" width="1.8" height="2.0"/>
<rect x="361.50" y="312.65" width="1.8" height="2.0"/>
<rect x="366.50" y="312.65" width="1.8" height="2.0"/>
<rect x="356.50" y="307.98" width="1.8" height="2.0"/>
<rect x="361.50" y="307.98" width="1.8" height="2.0"/>
<rect x="366.50" y="307.98" width="1.8" height="2.0"/>
<rect x="356.50" y="303.31" width="1.8" height="2.0"/>
<rect x="361.50" y="303.31" width="1.8" height="2.0"/>
<rect x="366.50" y="303.31" width="1.8" height="2.0"/>
<rect x="356.50" y="298.64" width="1.8" height="2.0"/>
<rect x="361.50" y="298.64" width="1.8" height="2.0"/>
<rect x="366.50" y="298.64" width="1.8" height="2.0"/>
<rect x="356.50" y="293.97" width="1.8" height="2.0"/>
<rect x="361.50" y="293.97" width="1.8" height="2.0"/>
<rect x="366.50" y="293.97" width="1.8" height="2.0"/>
</g>
<path d="M156.00,394.00 V383.50 H184.40 V394.00" fill="none" stroke="#111" stroke-width="1.6"/>
<text transform="translate(171.30,376.70) scale(0.84,1.12) translate(-2.18,5.60)" font-size="11.18" font-weight="bold" fill="#111" stroke="#111" stroke-width="0.7">*</text>
<path d="M238.00,352.20 V341.80 H267.70 V352.20" fill="none" stroke="#111" stroke-width="1.6"/>
<text transform="translate(249.50,335.50) scale(0.84,1.12) translate(-2.18,5.60)" font-size="11.18" font-weight="bold" fill="#111" stroke="#111" stroke-width="0.7">*</text>
<text transform="translate(259.10,335.50) scale(0.84,1.12) translate(-2.18,5.60)" font-size="11.18" font-weight="bold" fill="#111" stroke="#111" stroke-width="0.7">*</text>
<path d="M322.00,272.00 V262.40 H347.30 V272.00" fill="none" stroke="#111" stroke-width="1.6"/>
<text transform="translate(330.50,255.20) scale(0.84,1.12) translate(-2.18,5.60)" font-size="11.18" font-weight="bold" fill="#111" stroke="#111" stroke-width="0.7">*</text>
<text transform="translate(337.30,255.20) scale(0.84,1.12) translate(-2.18,5.60)" font-size="11.18" font-weight="bold" fill="#111" stroke="#111" stroke-width="0.7">*</text>
<text transform="translate(91.00,502.90) scale(1.0448,1) translate(-0.66,0)" font-size="16.44" fill="#111" stroke="#111" stroke-width="0.45">0</text>
<text transform="translate(158.50,503.20) scale(1.0780,1) translate(-0.66,0)" font-size="16.44" fill="#111" stroke="#111" stroke-width="0.45">0.16</text>
<text transform="translate(245.30,503.20) scale(1.0995,1) translate(-0.66,0)" font-size="16.44" fill="#111" stroke="#111" stroke-width="0.45">0.4</text>
<text transform="translate(335.10,503.10) scale(0.8432,1) translate(-1.25,0)" font-size="16.73" fill="#111" stroke="#111" stroke-width="0.45">1</text>
<text transform="translate(135.80,522.30) scale(1.0601,1) translate(-0.46,0)" font-size="16.87" fill="#111" stroke="#111" stroke-width="0.45">staurosporine</text>
<text transform="translate(248.90,522.30) scale(0.9878,1) translate(-1.05,0)" font-size="16.87" fill="#111" stroke="#111" stroke-width="0.45">(µM)</text>
<text transform="translate(1.70,566.80) scale(0.9191,1) translate(-1.08,0)" font-size="26.91" font-weight="bold" fill="#111" stroke="#111" stroke-width="0.45">C</text>
<path d="M74.1,772 V574.8 H361.9 V772" fill="none" stroke="#111" stroke-width="2.7"/>
<rect x="72.75" y="769.00" width="290.50" height="3.10" fill="#111"/>
<text transform="translate(52.20,612.30) scale(1.1133,1) translate(-0.81,0)" font-size="16.29" fill="#111" stroke="#111" stroke-width="0.45">25</text>
<text transform="translate(52.00,643.40) scale(1.1046,1) translate(-0.81,0)" font-size="16.29" fill="#111" stroke="#111" stroke-width="0.45">20</text>
<text transform="translate(53.70,675.70) scale(0.9747,1) translate(-1.22,0)" font-size="16.29" fill="#111" stroke="#111" stroke-width="0.45">15</text>
<text transform="translate(53.10,706.90) scale(1.0277,1) translate(-1.22,0)" font-size="16.29" fill="#111" stroke="#111" stroke-width="0.45">10</text>
<text transform="translate(56.60,741.50) scale(1.2794,1) translate(-0.65,0)" font-size="16.29" fill="#111" stroke="#111" stroke-width="0.45">5</text>
<text transform="translate(57.10,776.30) scale(1.2084,1) translate(-0.65,0)" font-size="16.29" fill="#111" stroke="#111" stroke-width="0.45">0</text>
<line x1="75.00" y1="605.20" x2="80.20" y2="605.20" stroke="#111" stroke-width="1.7"/>
<line x1="75.00" y1="637.20" x2="80.20" y2="637.20" stroke="#111" stroke-width="1.7"/>
<line x1="75.00" y1="669.60" x2="80.20" y2="669.60" stroke="#111" stroke-width="1.7"/>
<line x1="75.00" y1="701.00" x2="80.20" y2="701.00" stroke="#111" stroke-width="1.7"/>
<line x1="75.00" y1="734.40" x2="80.20" y2="734.40" stroke="#111" stroke-width="1.7"/>
<text transform="translate(42.80,752.00) rotate(-90.00) scale(1.2512,1) translate(-0.50,0)" font-size="14.25" fill="#111" stroke="#111" stroke-width="0.45">% of apoptotic cells</text>
<line x1="95.62" y1="754.50" x2="95.62" y2="760.00" stroke="#111" stroke-width="1.6"/>
<line x1="91.12" y1="754.50" x2="100.12" y2="754.50" stroke="#111" stroke-width="1.7"/>
<rect x="87.35" y="760.10" width="16.85" height="10.70" fill="#fff" stroke="#111" stroke-width="2.2"/>
<line x1="114.38" y1="758.00" x2="114.38" y2="762.25" stroke="#111" stroke-width="1.6"/>
<line x1="109.88" y1="758.00" x2="118.88" y2="758.00" stroke="#111" stroke-width="1.7"/>
<rect x="104.70" y="761.25" width="19.35" height="9.55" fill="#111"/>
<clipPath id="c13"><rect x="107.00" y="763.85" width="14.65" height="5.75"/></clipPath>
<g clip-path="url(#c13)" fill="#fff">
<path d="M107.00,770.60 L121.65,763.86 V760.16 L107.00,766.90Z"/>
<path d="M107.00,763.60 L121.65,756.86 V753.16 L107.00,759.90Z"/>
<path d="M107.00,756.60 L121.65,749.86 V746.16 L107.00,752.90Z"/>
</g>
<line x1="133.75" y1="751.25" x2="133.75" y2="757.50" stroke="#111" stroke-width="1.6"/>
<line x1="129.25" y1="751.25" x2="138.25" y2="751.25" stroke="#111" stroke-width="1.7"/>
<rect x="123.45" y="756.50" width="20.60" height="14.30" fill="#111"/>
<clipPath id="c14"><rect x="125.75" y="759.10" width="16.60" height="10.50"/></clipPath>
<g clip-path="url(#c14)" fill="#fff">
<rect x="124.55" y="766.70" width="18.20" height="1.8"/>
<rect x="124.55" y="762.03" width="18.20" height="1.8"/>
</g>
<line x1="153.12" y1="755.50" x2="153.12" y2="762.25" stroke="#111" stroke-width="1.6"/>
<line x1="148.62" y1="755.50" x2="157.62" y2="755.50" stroke="#111" stroke-width="1.7"/>
<rect x="143.45" y="761.25" width="19.35" height="9.55" fill="#111"/>
<clipPath id="c15"><rect x="144.25" y="763.85" width="16.25" height="5.75"/></clipPath>
<g clip-path="url(#c15)" fill="#fff">
<rect x="146.45" y="766.50" width="1.8" height="2.0"/>
<rect x="150.75" y="766.50" width="1.8" height="2.0"/>
<rect x="155.05" y="766.50" width="1.8" height="2.0"/>
<rect x="159.35" y="766.50" width="1.8" height="2.0"/>
</g>
<line x1="185.62" y1="725.00" x2="185.62" y2="731.75" stroke="#111" stroke-width="1.6"/>
<line x1="181.12" y1="725.00" x2="190.12" y2="725.00" stroke="#111" stroke-width="1.7"/>
<rect x="177.35" y="731.85" width="16.85" height="38.95" fill="#fff" stroke="#111" stroke-width="2.2"/>
<line x1="204.38" y1="729.25" x2="204.38" y2="734.75" stroke="#111" stroke-width="1.6"/>
<line x1="199.88" y1="729.25" x2="208.88" y2="729.25" stroke="#111" stroke-width="1.7"/>
<rect x="194.70" y="733.75" width="19.35" height="37.05" fill="#111"/>
<clipPath id="c16"><rect x="197.00" y="736.35" width="14.65" height="33.25"/></clipPath>
<g clip-path="url(#c16)" fill="#fff">
<path d="M197.00,770.60 L211.65,763.86 V760.16 L197.00,766.90Z"/>
<path d="M197.00,763.60 L211.65,756.86 V753.16 L197.00,759.90Z"/>
<path d="M197.00,756.60 L211.65,749.86 V746.16 L197.00,752.90Z"/>
<path d="M197.00,749.60 L211.65,742.86 V739.16 L197.00,745.90Z"/>
<path d="M197.00,742.60 L211.65,735.86 V732.16 L197.00,738.90Z"/>
<path d="M197.00,735.60 L211.65,728.86 V725.16 L197.00,731.90Z"/>
<path d="M197.00,728.60 L211.65,721.86 V718.16 L197.00,724.90Z"/>
</g>
<line x1="223.75" y1="677.00" x2="223.75" y2="692.25" stroke="#111" stroke-width="1.6"/>
<line x1="219.25" y1="677.00" x2="228.25" y2="677.00" stroke="#111" stroke-width="1.7"/>
<rect x="213.45" y="691.25" width="20.60" height="79.55" fill="#111"/>
<clipPath id="c17"><rect x="215.75" y="693.85" width="16.60" height="75.75"/></clipPath>
<g clip-path="url(#c17)" fill="#fff">
<rect x="214.55" y="766.70" width="18.20" height="1.8"/>
<rect x="214.55" y="762.03" width="18.20" height="1.8"/>
<rect x="214.55" y="757.36" width="18.20" height="1.8"/>
<rect x="214.55" y="752.69" width="18.20" height="1.8"/>
<rect x="214.55" y="748.02" width="18.20" height="1.8"/>
<rect x="214.55" y="743.35" width="18.20" height="1.8"/>
<rect x="214.55" y="738.68" width="18.20" height="1.8"/>
<rect x="214.55" y="734.01" width="18.20" height="1.8"/>
<rect x="214.55" y="729.34" width="18.20" height="1.8"/>
<rect x="214.55" y="724.67" width="18.20" height="1.8"/>
<rect x="214.55" y="720.00" width="18.20" height="1.8"/>
<rect x="214.55" y="715.33" width="18.20" height="1.8"/>
<rect x="214.55" y="710.66" width="18.20" height="1.8"/>
<rect x="214.55" y="705.99" width="18.20" height="1.8"/>
<rect x="214.55" y="701.32" width="18.20" height="1.8"/>
<rect x="214.55" y="696.65" width="18.20" height="1.8"/>
</g>
<line x1="242.30" y1="678.75" x2="242.30" y2="689.75" stroke="#111" stroke-width="1.6"/>
<line x1="237.80" y1="678.75" x2="246.80" y2="678.75" stroke="#111" stroke-width="1.7"/>
<rect x="233.45" y="688.75" width="21.35" height="82.05" fill="#111"/>
<clipPath id="c18"><rect x="234.25" y="691.35" width="18.25" height="78.25"/></clipPath>
<g clip-path="url(#c18)" fill="#fff">
<rect x="236.45" y="766.50" width="1.8" height="2.0"/>
<rect x="240.75" y="766.50" width="1.8" height="2.0"/>
<rect x="245.05" y="766.50" width="1.8" height="2.0"/>
<rect x="249.35" y="766.50" width="1.8" height="2.0"/>
<rect x="236.45" y="761.83" width="1.8" height="2.0"/>
<rect x="240.75" y="761.83" width="1.8" height="2.0"/>
<rect x="245.05" y="761.83" width="1.8" height="2.0"/>
<rect x="249.35" y="761.83" width="1.8" height="2.0"/>
<rect x="236.45" y="757.16" width="1.8" height="2.0"/>
<rect x="240.75" y="757.16" width="1.8" height="2.0"/>
<rect x="245.05" y="757.16" width="1.8" height="2.0"/>
<rect x="249.35" y="757.16" width="1.8" height="2.0"/>
<rect x="236.45" y="752.49" width="1.8" height="2.0"/>
<rect x="240.75" y="752.49" width="1.8" height="2.0"/>
<rect x="245.05" y="752.49" width="1.8" height="2.0"/>
<rect x="249.35" y="752.49" width="1.8" height="2.0"/>
<rect x="236.45" y="747.82" width="1.8" height="2.0"/>
<rect x="240.75" y="747.82" width="1.8" height="2.0"/>
<rect x="245.05" y="747.82" width="1.8" height="2.0"/>
<rect x="249.35" y="747.82" width="1.8" height="2.0"/>
<rect x="236.45" y="743.15" width="1.8" height="2.0"/>
<rect x="240.75" y="743.15" width="1.8" height="2.0"/>
<rect x="245.05" y="743.15" width="1.8" height="2.0"/>
<rect x="249.35" y="743.15" width="1.8" height="2.0"/>
<rect x="236.45" y="738.48" width="1.8" height="2.0"/>
<rect x="240.75" y="738.48" width="1.8" height="2.0"/>
<rect x="245.05" y="738.48" width="1.8" height="2.0"/>
<rect x="249.35" y="738.48" width="1.8" height="2.0"/>
<rect x="236.45" y="733.81" width="1.8" height="2.0"/>
<rect x="240.75" y="733.81" width="1.8" height="2.0"/>
<rect x="245.05" y="733.81" width="1.8" height="2.0"/>
<rect x="249.35" y="733.81" width="1.8" height="2.0"/>
<rect x="236.45" y="729.14" width="1.8" height="2.0"/>
<rect x="240.75" y="729.14" width="1.8" height="2.0"/>
<rect x="245.05" y="729.14" width="1.8" height="2.0"/>
<rect x="249.35" y="729.14" width="1.8" height="2.0"/>
<rect x="236.45" y="724.47" width="1.8" height="2.0"/>
<rect x="240.75" y="724.47" width="1.8" height="2.0"/>
<rect x="245.05" y="724.47" width="1.8" height="2.0"/>
<rect x="249.35" y="724.47" width="1.8" height="2.0"/>
<rect x="236.45" y="719.80" width="1.8" height="2.0"/>
<rect x="240.75" y="719.80" width="1.8" height="2.0"/>
<rect x="245.05" y="719.80" width="1.8" height="2.0"/>
<rect x="249.35" y="719.80" width="1.8" height="2.0"/>
<rect x="236.45" y="715.13" width="1.8" height="2.0"/>
<rect x="240.75" y="715.13" width="1.8" height="2.0"/>
<rect x="245.05" y="715.13" width="1.8" height="2.0"/>
<rect x="249.35" y="715.13" width="1.8" height="2.0"/>
<rect x="236.45" y="710.46" width="1.8" height="2.0"/>
<rect x="240.75" y="710.46" width="1.8" height="2.0"/>
<rect x="245.05" y="710.46" width="1.8" height="2.0"/>
<rect x="249.35" y="710.46" width="1.8" height="2.0"/>
<rect x="236.45" y="705.79" width="1.8" height="2.0"/>
<rect x="240.75" y="705.79" width="1.8" height="2.0"/>
<rect x="245.05" y="705.79" width="1.8" height="2.0"/>
<rect x="249.35" y="705.79" width="1.8" height="2.0"/>
<rect x="236.45" y="701.12" width="1.8" height="2.0"/>
<rect x="240.75" y="701.12" width="1.8" height="2.0"/>
<rect x="245.05" y="701.12" width="1.8" height="2.0"/>
<rect x="249.35" y="701.12" width="1.8" height="2.0"/>
<rect x="236.45" y="696.45" width="1.8" height="2.0"/>
<rect x="240.75" y="696.45" width="1.8" height="2.0"/>
<rect x="245.05" y="696.45" width="1.8" height="2.0"/>
<rect x="249.35" y="696.45" width="1.8" height="2.0"/>
<rect x="236.45" y="691.78" width="1.8" height="2.0"/>
<rect x="240.75" y="691.78" width="1.8" height="2.0"/>
<rect x="245.05" y="691.78" width="1.8" height="2.0"/>
<rect x="249.35" y="691.78" width="1.8" height="2.0"/>
</g>
<line x1="281.65" y1="680.00" x2="281.65" y2="691.70" stroke="#111" stroke-width="1.6"/>
<line x1="277.15" y1="680.00" x2="286.15" y2="680.00" stroke="#111" stroke-width="1.7"/>
<rect x="273.90" y="691.80" width="15.80" height="79.00" fill="#fff" stroke="#111" stroke-width="2.2"/>
<line x1="300.55" y1="677.30" x2="300.55" y2="687.60" stroke="#111" stroke-width="1.6"/>
<line x1="296.05" y1="677.30" x2="305.05" y2="677.30" stroke="#111" stroke-width="1.7"/>
<rect x="290.20" y="686.60" width="20.70" height="84.20" fill="#111"/>
<clipPath id="c19"><rect x="292.50" y="689.20" width="16.00" height="80.40"/></clipPath>
<g clip-path="url(#c19)" fill="#fff">
<path d="M292.50,770.60 L308.50,763.24 V759.54 L292.50,766.90Z"/>
<path d="M292.50,763.60 L308.50,756.24 V752.54 L292.50,759.90Z"/>
<path d="M292.50,756.60 L308.50,749.24 V745.54 L292.50,752.90Z"/>
<path d="M292.50,749.60 L308.50,742.24 V738.54 L292.50,745.90Z"/>
<path d="M292.50,742.60 L308.50,735.24 V731.54 L292.50,738.90Z"/>
<path d="M292.50,735.60 L308.50,728.24 V724.54 L292.50,731.90Z"/>
<path d="M292.50,728.60 L308.50,721.24 V717.54 L292.50,724.90Z"/>
<path d="M292.50,721.60 L308.50,714.24 V710.54 L292.50,717.90Z"/>
<path d="M292.50,714.60 L308.50,707.24 V703.54 L292.50,710.90Z"/>
<path d="M292.50,707.60 L308.50,700.24 V696.54 L292.50,703.90Z"/>
<path d="M292.50,700.60 L308.50,693.24 V689.54 L292.50,696.90Z"/>
<path d="M292.50,693.60 L308.50,686.24 V682.54 L292.50,689.90Z"/>
<path d="M292.50,686.60 L308.50,679.24 V675.54 L292.50,682.90Z"/>
</g>
<line x1="319.90" y1="604.30" x2="319.90" y2="624.00" stroke="#111" stroke-width="1.6"/>
<line x1="315.40" y1="604.30" x2="324.40" y2="604.30" stroke="#111" stroke-width="1.7"/>
<rect x="310.10" y="623.00" width="20.70" height="147.80" fill="#111"/>
<clipPath id="c20"><rect x="312.40" y="625.60" width="16.70" height="144.00"/></clipPath>
<g clip-path="url(#c20)" fill="#fff">
<rect x="311.20" y="766.70" width="18.30" height="1.8"/>
<rect x="311.20" y="762.03" width="18.30" height="1.8"/>
<rect x="311.20" y="757.36" width="18.30" height="1.8"/>
<rect x="311.20" y="752.69" width="18.30" height="1.8"/>
<rect x="311.20" y="748.02" width="18.30" height="1.8"/>
<rect x="311.20" y="743.35" width="18.30" height="1.8"/>
<rect x="311.20" y="738.68" width="18.30" height="1.8"/>
<rect x="311.20" y="734.01" width="18.30" height="1.8"/>
<rect x="311.20" y="729.34" width="18.30" height="1.8"/>
<rect x="311.20" y="724.67" width="18.30" height="1.8"/>
<rect x="311.20" y="720.00" width="18.30" height="1.8"/>
<rect x="311.20" y="715.33" width="18.30" height="1.8"/>
<rect x="311.20" y="710.66" width="18.30" height="1.8"/>
<rect x="311.20" y="705.99" width="18.30" height="1.8"/>
<rect x="311.20" y="701.32" width="18.30" height="1.8"/>
<rect x="311.20" y="696.65" width="18.30" height="1.8"/>
<rect x="311.20" y="691.98" width="18.30" height="1.8"/>
<rect x="311.20" y="687.31" width="18.30" height="1.8"/>
<rect x="311.20" y="682.64" width="18.30" height="1.8"/>
<rect x="311.20" y="677.97" width="18.30" height="1.8"/>
<rect x="311.20" y="673.30" width="18.30" height="1.8"/>
<rect x="311.20" y="668.63" width="18.30" height="1.8"/>
<rect x="311.20" y="663.96" width="18.30" height="1.8"/>
<rect x="311.20" y="659.29" width="18.30" height="1.8"/>
<rect x="311.20" y="654.62" width="18.30" height="1.8"/>
<rect x="311.20" y="649.95" width="18.30" height="1.8"/>
<rect x="311.20" y="645.28" width="18.30" height="1.8"/>
<rect x="311.20" y="640.61" width="18.30" height="1.8"/>
<rect x="311.20" y="635.94" width="18.30" height="1.8"/>
<rect x="311.20" y="631.27" width="18.30" height="1.8"/>
<rect x="311.20" y="626.60" width="18.30" height="1.8"/>
</g>
<line x1="338.70" y1="602.40" x2="338.70" y2="628.00" stroke="#111" stroke-width="1.6"/>
<line x1="334.20" y1="602.40" x2="343.20" y2="602.40" stroke="#111" stroke-width="1.7"/>
<rect x="330.20" y="627.00" width="19.90" height="143.80" fill="#111"/>
<clipPath id="c21"><rect x="331.00" y="629.60" width="16.80" height="140.00"/></clipPath>
<g clip-path="url(#c21)" fill="#fff">
<rect x="333.80" y="766.50" width="1.8" height="2.0"/>
<rect x="338.60" y="766.50" width="1.8" height="2.0"/>
<rect x="343.40" y="766.50" width="1.8" height="2.0"/>
<rect x="333.80" y="761.83" width="1.8" height="2.0"/>
<rect x="338.60" y="761.83" width="1.8" height="2.0"/>
<rect x="343.40" y="761.83" width="1.8" height="2.0"/>
<rect x="333.80" y="757.16" width="1.8" height="2.0"/>
<rect x="338.60" y="757.16" width="1.8" height="2.0"/>
<rect x="343.40" y="757.16" width="1.8" height="2.0"/>
<rect x="333.80" y="752.49" width="1.8" height="2.0"/>
<rect x="338.60" y="752.49" width="1.8" height="2.0"/>
<rect x="343.40" y="752.49" width="1.8" height="2.0"/>
<rect x="333.80" y="747.82" width="1.8" height="2.0"/>
<rect x="338.60" y="747.82" width="1.8" height="2.0"/>
<rect x="343.40" y="747.82" width="1.8" height="2.0"/>
<rect x="333.80" y="743.15" width="1.8" height="2.0"/>
<rect x="338.60" y="743.15" width="1.8" height="2.0"/>
<rect x="343.40" y="743.15" width="1.8" height="2.0"/>
<rect x="333.80" y="738.48" width="1.8" height="2.0"/>
<rect x="338.60" y="738.48" width="1.8" height="2.0"/>
<rect x="343.40" y="738.48" width="1.8" height="2.0"/>
<rect x="333.80" y="733.81" width="1.8" height="2.0"/>
<rect x="338.60" y="733.81" width="1.8" height="2.0"/>
<rect x="343.40" y="733.81" width="1.8" height="2.0"/>
<rect x="333.80" y="729.14" width="1.8" height="2.0"/>
<rect x="338.60" y="729.14" width="1.8" height="2.0"/>
<rect x="343.40" y="729.14" width="1.8" height="2.0"/>
<rect x="333.80" y="724.47" width="1.8" height="2.0"/>
<rect x="338.60" y="724.47" width="1.8" height="2.0"/>
<rect x="343.40" y="724.47" width="1.8" height="2.0"/>
<rect x="333.80" y="719.80" width="1.8" height="2.0"/>
<rect x="338.60" y="719.80" width="1.8" height="2.0"/>
<rect x="343.40" y="719.80" width="1.8" height="2.0"/>
<rect x="333.80" y="715.13" width="1.8" height="2.0"/>
<rect x="338.60" y="715.13" width="1.8" height="2.0"/>
<rect x="343.40" y="715.13" width="1.8" height="2.0"/>
<rect x="333.80" y="710.46" width="1.8" height="2.0"/>
<rect x="338.60" y="710.46" width="1.8" height="2.0"/>
<rect x="343.40" y="710.46" width="1.8" height="2.0"/>
<rect x="333.80" y="705.79" width="1.8" height="2.0"/>
<rect x="338.60" y="705.79" width="1.8" height="2.0"/>
<rect x="343.40" y="705.79" width="1.8" height="2.0"/>
<rect x="333.80" y="701.12" width="1.8" height="2.0"/>
<rect x="338.60" y="701.12" width="1.8" height="2.0"/>
<rect x="343.40" y="701.12" width="1.8" height="2.0"/>
<rect x="333.80" y="696.45" width="1.8" height="2.0"/>
<rect x="338.60" y="696.45" width="1.8" height="2.0"/>
<rect x="343.40" y="696.45" width="1.8" height="2.0"/>
<rect x="333.80" y="691.78" width="1.8" height="2.0"/>
<rect x="338.60" y="691.78" width="1.8" height="2.0"/>
<rect x="343.40" y="691.78" width="1.8" height="2.0"/>
<rect x="333.80" y="687.11" width="1.8" height="2.0"/>
<rect x="338.60" y="687.11" width="1.8" height="2.0"/>
<rect x="343.40" y="687.11" width="1.8" height="2.0"/>
<rect x="333.80" y="682.44" width="1.8" height="2.0"/>
<rect x="338.60" y="682.44" width="1.8" height="2.0"/>
<rect x="343.40" y="682.44" width="1.8" height="2.0"/>
<rect x="333.80" y="677.77" width="1.8" height="2.0"/>
<rect x="338.60" y="677.77" width="1.8" height="2.0"/>
<rect x="343.40" y="677.77" width="1.8" height="2.0"/>
<rect x="333.80" y="673.10" width="1.8" height="2.0"/>
<rect x="338.60" y="673.10" width="1.8" height="2.0"/>
<rect x="343.40" y="673.10" width="1.8" height="2.0"/>
<rect x="333.80" y="668.43" width="1.8" height="2.0"/>
<rect x="338.60" y="668.43" width="1.8" height="2.0"/>
<rect x="343.40" y="668.43" width="1.8" height="2.0"/>
<rect x="333.80" y="663.76" width="1.8" height="2.0"/>
<rect x="338.60" y="663.76" width="1.8" height="2.0"/>
<rect x="343.40" y="663.76" width="1.8" height="2.0"/>
<rect x="333.80" y="659.09" width="1.8" height="2.0"/>
<rect x="338.60" y="659.09" width="1.8" height="2.0"/>
<rect x="343.40" y="659.09" width="1.8" height="2.0"/>
<rect x="333.80" y="654.42" width="1.8" height="2.0"/>
<rect x="338.60" y="654.42" width="1.8" height="2.0"/>
<rect x="343.40" y="654.42" width="1.8" height="2.0"/>
<rect x="333.80" y="649.75" width="1.8" height="2.0"/>
<rect x="338.60" y="649.75" width="1.8" height="2.0"/>
<rect x="343.40" y="649.75" width="1.8" height="2.0"/>
<rect x="333.80" y="645.08" width="1.8" height="2.0"/>
<rect x="338.60" y="645.08" width="1.8" height="2.0"/>
<rect x="343.40" y="645.08" width="1.8" height="2.0"/>
<rect x="333.80" y="640.41" width="1.8" height="2.0"/>
<rect x="338.60" y="640.41" width="1.8" height="2.0"/>
<rect x="343.40" y="640.41" width="1.8" height="2.0"/>
<rect x="333.80" y="635.74" width="1.8" height="2.0"/>
<rect x="338.60" y="635.74" width="1.8" height="2.0"/>
<rect x="343.40" y="635.74" width="1.8" height="2.0"/>
<rect x="333.80" y="631.07" width="1.8" height="2.0"/>
<rect x="338.60" y="631.07" width="1.8" height="2.0"/>
<rect x="343.40" y="631.07" width="1.8" height="2.0"/>
</g>
<path d="M196.25,665.60 V655.60 H230.75 V665.60" fill="none" stroke="#111" stroke-width="1.6"/>
<text transform="translate(213.25,649.50) scale(0.84,1.12) translate(-2.18,5.60)" font-size="11.18" font-weight="bold" fill="#111" stroke="#111" stroke-width="0.7">*</text>
<path d="M293.00,598.30 V588.20 H327.30 V598.30" fill="none" stroke="#111" stroke-width="1.6"/>
<text transform="translate(306.50,581.50) scale(0.84,1.12) translate(-2.18,5.60)" font-size="11.18" font-weight="bold" fill="#111" stroke="#111" stroke-width="0.7">*</text>
<text transform="translate(313.30,581.50) scale(0.84,1.12) translate(-2.18,5.60)" font-size="11.18" font-weight="bold" fill="#111" stroke="#111" stroke-width="0.7">*</text>
<text transform="translate(118.80,790.40) scale(1.0541,1) translate(-0.65,0)" font-size="16.29" fill="#111" stroke="#111" stroke-width="0.45">0</text>
<text transform="translate(210.20,790.40) scale(1.1063,1) translate(-0.81,0)" font-size="16.29" fill="#111" stroke="#111" stroke-width="0.45">2</text>
<text transform="translate(300.80,790.40) scale(1.0857,1) translate(-1.23,0)" font-size="16.44" fill="#111" stroke="#111" stroke-width="0.45">10</text>
<text transform="translate(112.50,812.50) scale(1.0195,1) translate(-0.74,0)" font-size="17.45" fill="#111" stroke="#111" stroke-width="0.45">anti-CD3/anti-CD28 (µg/mL)</text>
</svg>
</body></html>
